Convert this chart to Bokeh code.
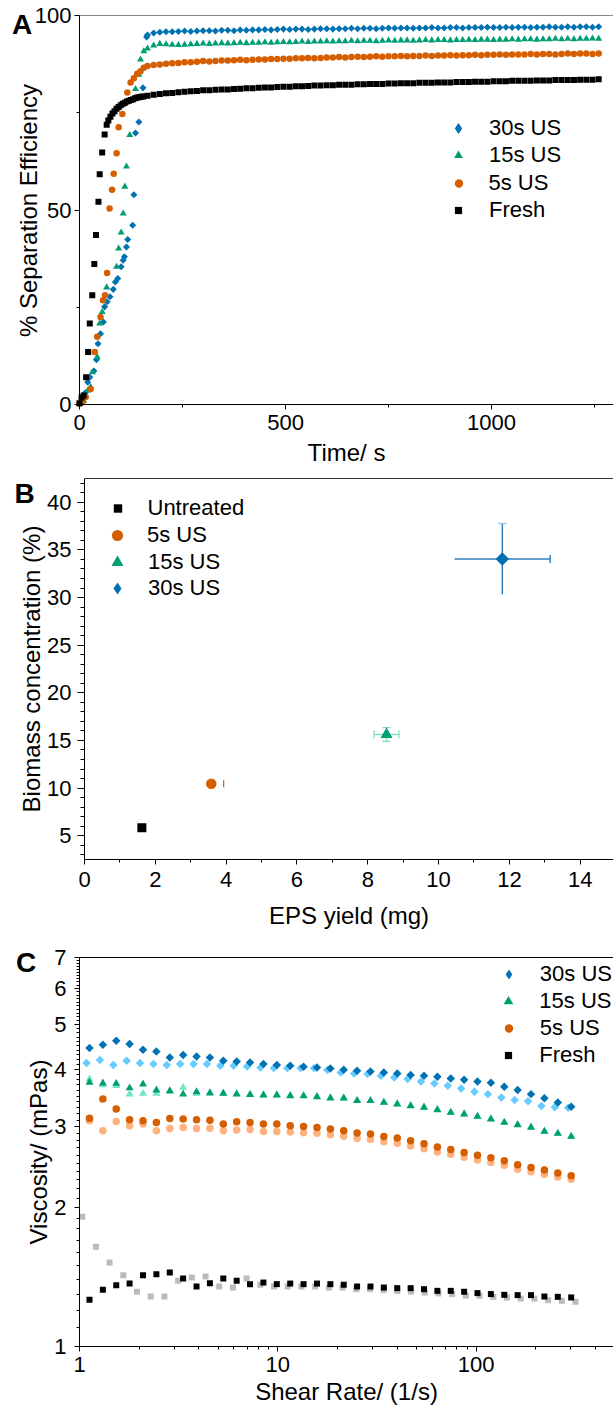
from math import pi, log10
from bokeh.plotting import figure
from bokeh.layouts import column
from bokeh.models import (Range1d, LinearAxis, FixedTicker, Legend, LegendItem, Label,
                          Whisker, TeeHead, ColumnDataSource, PrintfTickFormatter)
from bokeh.embed import file_html
from bokeh.resources import INLINE

FONT = "Liberation Sans"
BLUE, GREEN, ORANGE, BLACK = "#0072B2", "#009E73", "#D55E00", "#000000"
LBLUE, LGREEN, LORANGE, GRAY = "#66CCFF", "#70E6C4", "#FFB27F", "#BBBBBB"

# ---------------- Panel A data: separation efficiency vs time ----------------
t_plateau = [165, 180, 195, 210, 225, 240, 255, 270, 285, 300,
             315, 330, 345, 360, 375, 390, 405, 420, 435, 450,
             465, 480, 495, 510, 525, 540, 555, 570, 585, 600,
             615, 630, 645, 660, 675, 690, 705, 720, 735, 750,
             765, 780, 795, 810, 825, 840, 855, 870, 885, 900,
             915, 930, 945, 960, 975, 990, 1005, 1020, 1035, 1050,
             1065, 1080, 1095, 1110, 1125, 1140, 1155, 1170, 1185, 1200,
             1215, 1230, 1245, 1260]

us30_t_rise = [0, 7, 14, 20, 25, 35, 41, 45, 51, 58, 61, 67, 74, 82, 87, 93, 101, 106, 109,
               114, 117, 129, 132, 136, 144, 154, 163]
us30_v_rise = [0.2, 0.6, 3.0, 5.7, 7.0, 8.6, 11.5, 15.6, 18.2, 21.2, 25.1, 26.4, 27.7, 29.6, 31.5,
               32.4, 35.4, 37.1, 38.0, 40.5, 42.4, 46.1, 53.9, 69.8, 72.6, 81.4, 94.5]
us30_v_plat = [95.0, 95.5, 95.7, 95.8, 95.8, 95.9, 96.0, 95.9, 96.0, 96.1,
               96.1, 96.0, 96.2, 96.2, 96.1, 96.3, 96.2, 96.3, 96.3, 96.4,
               96.3, 96.4, 96.5, 96.4, 96.5, 96.5, 96.4, 96.5, 96.6, 96.6,
               96.5, 96.6, 96.6, 96.7, 96.6, 96.7, 96.7, 96.6, 96.7, 96.8,
               96.7, 96.8, 96.8, 96.7, 96.8, 96.8, 96.9, 96.8, 96.8, 96.9,
               96.9, 96.8, 96.9, 96.9, 96.9, 97.0, 96.9, 96.9, 97.0, 96.9,
               97.0, 97.0, 96.9, 97.0, 97.0, 97.1, 97.0, 97.0, 97.1, 97.0,
               97.1, 97.1, 97.0, 97.1]

us15_t_rise = [0, 10, 20, 27, 31, 43, 49, 55, 59, 66, 90, 95, 101, 106, 110, 114, 122, 136,
               144, 148, 156]
us15_v_rise = [0.2, 1.0, 3.6, 4.5, 8.3, 12.2, 20.8, 23.8, 26.8, 30.1, 35.4, 40.1, 44.2, 49.1,
               56.0, 61.2, 69.3, 81.1, 84.8, 88.7, 90.8]
us15_v_plat = [91.5, 92.3, 92.7, 92.6, 92.5, 92.4, 92.5, 92.6, 92.7, 92.8,
               92.7, 92.8, 92.9, 92.8, 92.9, 93.0, 92.9, 93.0, 93.0, 93.1,
               93.0, 93.1, 93.2, 93.1, 93.2, 93.3, 93.2, 93.3, 93.3, 93.4,
               93.3, 93.4, 93.4, 93.5, 93.4, 93.5, 93.5, 93.4, 93.5, 93.6,
               93.5, 93.6, 93.6, 93.5, 93.6, 93.7, 93.6, 93.7, 93.7, 93.6,
               93.7, 93.7, 93.8, 93.7, 93.8, 93.8, 93.7, 93.8, 93.8, 93.9,
               93.8, 93.9, 93.9, 93.8, 93.9, 93.9, 94.0, 93.9, 94.0, 93.9,
               94.0, 94.0, 94.1, 94.0]

us5_t_rise = [0, 6, 15, 27, 37, 43, 51, 57, 62, 67, 73, 79, 83, 90, 95, 104, 110, 116, 124,
              132, 140, 148, 156]
us5_v_rise = [0.2, 0.6, 1.9, 4.0, 13.5, 17.4, 22.5, 26.8, 28.1, 33.8, 50.4, 55.2, 59.3, 64.6,
              71.3, 74.7, 77.5, 80.2, 82.8, 83.9, 85.0, 85.7, 86.6]
us5_v_plat = [87.0, 87.3, 87.4, 87.6, 87.7, 87.8, 88.0, 88.0, 88.1, 88.3,
              88.2, 88.3, 88.4, 88.4, 88.5, 88.6, 88.5, 88.6, 88.7, 88.7,
              88.8, 88.8, 88.9, 88.9, 89.0, 89.0, 89.1, 89.0, 89.1, 89.2,
              89.2, 89.3, 89.2, 89.3, 89.4, 89.3, 89.4, 89.5, 89.4, 89.5,
              89.5, 89.6, 89.5, 89.6, 89.6, 89.7, 89.6, 89.7, 89.7, 89.8,
              89.7, 89.8, 89.8, 89.9, 89.8, 89.9, 89.9, 90.0, 89.9, 90.0,
              90.0, 90.0, 90.1, 90.0, 90.1, 90.1, 90.0, 90.1, 90.2, 90.1,
              90.2, 90.2, 90.1, 90.2]

fresh_t_rise = [0, 5, 10, 16, 21, 25, 31, 36, 40, 46, 49, 55, 61, 66, 70, 75, 80, 85, 90, 95,
                100, 105, 110, 115, 120, 125, 130, 135, 140, 145, 150, 155]
fresh_v_rise = [0.3, 1.8, 2.3, 7.0, 13.5, 20.8, 28.1, 36.1, 43.6, 52.1, 59.2, 64.8, 69.4, 71.9,
                73.0, 74.0, 74.8, 75.4, 76.0, 76.5, 76.9, 77.3, 77.6, 77.9, 78.1, 78.3, 78.5,
                78.7, 78.9, 79.0, 79.1, 79.2]
fresh_v_plat = [79.4, 79.6, 79.8, 80.0, 80.1, 80.3, 80.4, 80.5, 80.6, 80.8,
                80.8, 80.9, 81.0, 81.0, 81.1, 81.2, 81.3, 81.3, 81.4, 81.5,
                81.5, 81.6, 81.7, 81.7, 81.8, 81.8, 81.9, 82.0, 82.0, 82.1,
                82.1, 82.2, 82.2, 82.2, 82.3, 82.3, 82.4, 82.4, 82.4, 82.5,
                82.5, 82.6, 82.6, 82.6, 82.7, 82.7, 82.7, 82.8, 82.8, 82.8,
                82.9, 82.9, 82.9, 83.0, 83.0, 83.0, 83.1, 83.1, 83.1, 83.2,
                83.2, 83.2, 83.2, 83.3, 83.3, 83.3, 83.4, 83.4, 83.4, 83.4,
                83.5, 83.5, 83.5, 83.6]

A_xlim, A_ylim = (0, 1296), (0, 100)
A_xticks, A_xminor = [0, 500, 1000], [250, 750, 1250]
A_yticks, A_yminor = [0, 50, 100], [25, 75]

# ---------------- Panel B data: biomass vs EPS yield ----------------
B_groups = ["Untreated", "5s US", "15s US", "30s US"]
B_eps = [1.62, 3.58, 8.53, 11.80]
B_eps_err = [0.00, 0.35, 0.35, 1.35]
B_biomass = [5.84, 10.46, 15.63, 34.05]
B_biomass_err = [0.00, 0.00, 0.72, 3.72]
B_xlim, B_ylim = (0, 14.94), (2.5, 42.5)
B_xticks, B_xminor = [0, 2, 4, 6, 8, 10, 12, 14], [1, 3, 5, 7, 9, 11, 13]
B_yticks = [5, 10, 15, 20, 25, 30, 35, 40]
B_yminor = [3, 4, 6, 7, 8, 9, 11, 12, 13, 14, 16, 17, 18, 19, 21, 22, 23, 24, 26, 27, 28, 29,
            31, 32, 33, 34, 36, 37, 38, 39, 41, 42]

# ---------------- Panel C data: viscosity vs shear rate ----------------
shear = [1.123, 1.312, 1.532, 1.789, 2.091, 2.442, 2.853, 3.332, 3.892, 4.546, 5.311, 6.203,
         7.244, 8.463, 9.886, 11.55, 13.49, 15.76, 18.41, 21.50, 25.11, 29.33, 34.26, 40.02,
         46.75, 54.61, 63.77, 74.50, 87.02, 101.6, 118.7, 138.7, 162.0, 189.2, 221.0, 258.2,
         301.6]
shear_rep_30s = [1.085, 1.267, 1.480, 1.728, 2.020, 2.359, 2.756, 3.219, 3.760, 4.391, 5.130,
                 5.992, 6.998, 8.175, 9.550, 11.16, 13.03, 15.22, 17.78, 20.77, 24.26, 28.33,
                 33.10, 38.66, 45.16, 52.75, 61.60, 71.97, 84.06, 98.15, 114.7, 134.0, 156.5,
                 182.8, 213.5, 249.4, 291.3]
shear_rep_fresh = [1.032, 1.210, 1.418, 1.663, 1.950, 2.286, 2.680, 3.142, 3.685, 4.320, 5.065,
                   5.938, 6.962, 8.163, 9.572, 11.22, 13.16, 15.43, 18.09, 21.21, 24.87, 29.15,
                   34.19, 40.08, 46.99, 55.10, 64.60, 75.74, 88.80, 104.1, 122.1, 143.1, 167.8,
                   196.8, 230.7, 270.5, 317.1]
visc_30s = [4.449, 4.523, 4.615, 4.539, 4.411, 4.374, 4.244, 4.296, 4.266, 4.244, 4.176, 4.161,
            4.140, 4.107, 4.087, 4.072, 4.052, 4.038, 4.018, 3.992, 3.972, 3.958, 3.938, 3.919,
            3.887, 3.874, 3.854, 3.821, 3.797, 3.764, 3.740, 3.666, 3.606, 3.534, 3.463, 3.389,
            3.317]
visc_30s_rep = [4.128, 4.190, 4.087, 4.176, 4.128, 4.107, 4.087, 4.107, 4.107, 4.107, 4.072,
                4.072, 4.058, 4.038, 4.025, 4.025, 4.025, 4.025, 3.986, 3.938, 3.919, 3.907,
                3.874, 3.840, 3.810, 3.764, 3.727, 3.685, 3.636, 3.575, 3.534, 3.475, 3.430,
                3.410, 3.330, 3.310, 3.300]
visc_15s = [3.746, 3.735, 3.727, 3.643, 3.716, 3.606, 3.593, 3.534, 3.575, 3.552, 3.548, 3.534,
            3.522, 3.516, 3.516, 3.504, 3.504, 3.486, 3.463, 3.463, 3.418, 3.418, 3.389, 3.362,
            3.333, 3.306, 3.267, 3.223, 3.197, 3.159, 3.119, 3.066, 3.031, 2.991, 2.932, 2.902,
            2.859]
visc_15s_rep = [3.810, 3.700, 3.685, 3.534, 3.545, 3.545, 3.580, 3.653, 3.545, 3.560, 3.550,
                3.545, 3.530, 3.520, 3.520, 3.510, 3.505, 3.490, 3.470, 3.465, 3.425, 3.420,
                3.395, 3.365, 3.335, 3.310, 3.270, 3.225, 3.200, 3.160, 3.120, 3.070, 3.035,
                2.995, 2.935, 2.905, 2.860]
visc_5s = [3.134, 3.447, 3.280, 3.108, 3.092, 3.066, 3.128, 3.119, 3.108, 3.103, 3.042, 3.077,
           3.066, 3.042, 3.042, 3.016, 3.006, 2.991, 2.967, 2.942, 2.908, 2.894, 2.859, 2.836,
           2.798, 2.757, 2.713, 2.680, 2.640, 2.602, 2.570, 2.532, 2.481, 2.448, 2.417, 2.381,
           2.349]
visc_5s_rep = [3.092, 2.942, 3.082, 3.016, 3.042, 2.942, 2.976, 2.991, 2.976, 2.981, 2.942,
               2.952, 2.962, 2.932, 2.932, 2.923, 2.913, 2.906, 2.884, 2.861, 2.829, 2.817,
               2.784, 2.763, 2.727, 2.688, 2.646, 2.615, 2.577, 2.541, 2.511, 2.475, 2.426,
               2.396, 2.367, 2.336, 2.309]
visc_fresh = [1.263, 1.328, 1.359, 1.370, 1.429, 1.436, 1.448, 1.405, 1.350, 1.373, 1.405, 1.389,
              1.366, 1.377, 1.366, 1.370, 1.366, 1.370, 1.366, 1.362, 1.350, 1.350, 1.343, 1.339,
              1.339, 1.332, 1.321, 1.321, 1.315, 1.306, 1.300, 1.295, 1.293, 1.293, 1.284, 1.282,
              1.278]
visc_fresh_rep = [1.913, 1.647, 1.522, 1.429, 1.315, 1.284, 1.284, 1.389, 1.412, 1.419, 1.350,
                  1.343, 1.405, 1.362, 1.350, 1.350, 1.350, 1.350, 1.343, 1.343, 1.332, 1.332,
                  1.326, 1.321, 1.317, 1.310, 1.304, 1.300, 1.289, 1.289, 1.282, 1.278, 1.271,
                  1.271, 1.261, 1.257, 1.251]
C_xlim, C_ylim = (1, 493), (1, 7)
C_xticks = [1, 10, 100]
C_xminor = [2, 3, 4, 5, 6, 7, 8, 9, 20, 30, 40, 50, 60, 70, 80, 90, 200, 300, 400]
C_yticks = [1, 2, 3, 4, 5, 6, 7]
C_yminor = [1.1, 1.2, 1.3, 1.4, 1.5, 1.6, 1.7, 1.8, 1.9, 2.1, 2.2, 2.3, 2.4, 2.5, 2.6, 2.7, 2.8,
            2.9, 3.1, 3.2, 3.3, 3.4, 3.5, 3.6, 3.7, 3.8, 3.9, 4.1, 4.2, 4.3, 4.4, 4.5, 4.6, 4.7,
            4.8, 4.9, 5.1, 5.2, 5.3, 5.4, 5.5, 5.6, 5.7, 5.8, 5.9, 6.1, 6.2, 6.3, 6.4, 6.5, 6.6,
            6.7, 6.8, 6.9]

W = 613


# ---------------- helpers ----------------
def canvas_range(lim, p_lo, p_hi, size, log=False, vertical=False):
    """Range so that lim[0] sits at pixel p_lo and lim[1] at pixel p_hi of a plot
    frame that fills the whole canvas (size pixels)."""
    f = log10 if log else (lambda v: v)
    g = (lambda v: 10 ** v) if log else (lambda v: v)
    a, b = f(lim[0]), f(lim[1])
    per_px = (b - a) / abs(p_hi - p_lo)
    if vertical:  # p_lo is the lower edge (larger pixel y), pixel y grows downward
        start = a - (size - p_lo) * per_px
        end = a + p_lo * per_px
    else:
        start = a - p_lo * per_px
        end = a + (size - p_lo) * per_px
    return Range1d(g(start), g(end))


def style_axis(ax, fixed, bounds, tick_out, minor_out, lab_stand):
    ax.fixed_location = fixed
    ax.bounds = bounds
    ax.axis_label = None
    ax.major_label_text_font = FONT
    ax.major_label_text_font_size = "22px"
    ax.major_label_text_color = "black"
    ax.major_label_standoff = lab_stand
    ax.major_tick_in = 0
    ax.major_tick_out = tick_out
    ax.minor_tick_in = 0
    ax.minor_tick_out = minor_out
    ax.axis_line_color = "black"
    ax.major_tick_line_color = "black"
    ax.minor_tick_line_color = "black"


def top_border(p, color, y_end, bounds):
    ax = LinearAxis(fixed_location=y_end, bounds=bounds, ticker=FixedTicker(ticks=[]),
                    axis_line_color=color, major_tick_out=0, major_tick_in=0,
                    minor_tick_out=0, minor_tick_in=0, major_label_text_font_size="0px",
                    major_label_standoff=0, axis_label_standoff=0)
    p.add_layout(ax, "above")


def text(p, H, s, sx, sy, size="24px", bold=False, angle=0.0, align="center"):
    # sx, sy: canvas pixels (from the figure's top-left) of the text's middle line
    p.add_layout(Label(x=sx, y=H - sy, x_units="screen", y_units="screen", text=s, angle=angle,
                       text_font=FONT, text_font_size=size,
                       text_font_style="bold" if bold else "normal", text_color="black",
                       text_align=align, text_baseline="middle"))


def legend_row(p, H, xs, ys, label, marker, msize, color, cx, cy, lx):
    # hidden copy of the series, used only as the legend's symbol
    r = p.scatter(xs, ys, marker=marker, fill_color=color, line_color=None, visible=False)
    gw = int(round(msize / 0.4))
    gh = max(30, gw)
    leg = Legend(items=[LegendItem(label=label, renderers=[r])],
                 location=(cx - gw / 2, H - cy - gh / 2),
                 glyph_width=gw, glyph_height=gh, label_height=gh,
                 label_standoff=int(round(lx - (cx + gw / 2))), padding=0, margin=0, spacing=0,
                 border_line_color=None, background_fill_alpha=0,
                 inactive_fill_alpha=0, click_policy="none",
                 label_text_font=FONT, label_text_font_size="22px", label_text_color="black")
    p.add_layout(leg)


def base_fig(H, xr, yr, **kw):
    p = figure(width=W, height=H, x_range=xr, y_range=yr, output_backend="svg",
               toolbar_location=None, min_border=0, min_border_left=0, min_border_right=0,
               min_border_top=0, min_border_bottom=0, **kw)
    p.xgrid.visible = False
    p.ygrid.visible = False
    p.outline_line_color = None
    p.background_fill_color = "white"
    p.border_fill_color = "white"
    return p


# ---------------- Panel A ----------------
HA = 470
pA = base_fig(HA, canvas_range(A_xlim, 79, W, W), canvas_range(A_ylim, 404, 15, HA, vertical=True))
style_axis(pA.below[0], A_ylim[0], A_xlim, 5, 3, 5)
style_axis(pA.left[0], A_xlim[0], A_ylim, 5, 3, 3)
pA.below[0].ticker = FixedTicker(ticks=A_xticks, minor_ticks=A_xminor)
pA.left[0].ticker = FixedTicker(ticks=A_yticks, minor_ticks=A_yminor)
top_border(pA, "#8a8a8a", A_ylim[1], A_xlim)

A_series = [
    ("30s US", us30_t_rise + t_plateau, us30_v_rise + us30_v_plat, BLUE),
    ("15s US", us15_t_rise + t_plateau, us15_v_rise + us15_v_plat, GREEN),
    ("5s US", us5_t_rise + t_plateau, us5_v_rise + us5_v_plat, ORANGE),
    ("Fresh", fresh_t_rise + t_plateau, fresh_v_rise + fresh_v_plat, BLACK),
]
A_mark = {"30s US": ("square", 5, pi / 4), "15s US": ("triangle", 7, 0.0),
          "5s US": ("circle", 6.5, 0.0), "Fresh": ("square", 6, 0.0)}
A_leg = {"30s US": ("diamond", 11, 128), "15s US": ("triangle", 9, 155),
         "5s US": ("circle", 8.5, 183), "Fresh": ("square", 7, 210)}
for name, xs, ys, col in A_series:
    mk, ms, ang = A_mark[name]
    pA.scatter(xs, ys, marker=mk, size=ms, angle=ang, fill_color=col, line_color=None)
for name, xs, ys, col in A_series:
    mk, ms, cy = A_leg[name]
    legend_row(pA, HA, xs, ys, name, mk, ms, col, 458, cy, 489)
text(pA, HA, "Time/ s", 346, 452)
text(pA, HA, "% Separation Efficiency", 27.5, 210, angle=pi / 2)
text(pA, HA, "A", 11.5, 24, size="28px", bold=True, align="left")

# ---------------- Panel B ----------------
HB = 460
pB = base_fig(HB, canvas_range(B_xlim, 84, W, W), canvas_range(B_ylim, 389, 8, HB, vertical=True))
style_axis(pB.below[0], B_ylim[0], B_xlim, 5, 3, 7)
style_axis(pB.left[0], B_xlim[0], B_ylim, 7, 4, 6)
pB.below[0].ticker = FixedTicker(ticks=B_xticks, minor_ticks=B_xminor)
pB.left[0].ticker = FixedTicker(ticks=B_yticks, minor_ticks=B_yminor)
top_border(pB, "#333333", B_ylim[1], B_xlim)

i = 1  # 5s US: only the plus cap is visible
src = ColumnDataSource(dict(y=[B_biomass[i]], lo=[B_eps[i]], hi=[B_eps[i] + B_eps_err[i]]))
pB.add_layout(Whisker(source=src, base="y", lower="lo", upper="hi", dimension="width",
                      line_alpha=0, lower_head=None,
                      upper_head=TeeHead(size=7, line_color=ORANGE, line_width=1.2)))
i = 2  # 15s US
src = ColumnDataSource(dict(x=[B_eps[i]], y=[B_biomass[i]],
                            xl=[B_eps[i] - B_eps_err[i]], xu=[B_eps[i] + B_eps_err[i]],
                            yl=[B_biomass[i] - B_biomass_err[i]], yu=[B_biomass[i] + B_biomass_err[i]]))
EG = "#7fd8b8"
pB.add_layout(Whisker(source=src, base="y", lower="xl", upper="xu", dimension="width",
                      line_color=EG, line_width=1.2,
                      upper_head=TeeHead(size=8, line_color=EG, line_width=1.2),
                      lower_head=TeeHead(size=8, line_color=EG, line_width=1.2)))
pB.add_layout(Whisker(source=src, base="x", lower="yl", upper="yu", dimension="height",
                      line_color=EG, line_width=1.2,
                      upper_head=TeeHead(size=8, line_color=EG, line_width=1.2),
                      lower_head=TeeHead(size=8, line_color=EG, line_width=1.2)))
i = 3  # 30s US
src = ColumnDataSource(dict(x=[B_eps[i]], y=[B_biomass[i]],
                            xl=[B_eps[i] - B_eps_err[i]], xu=[B_eps[i] + B_eps_err[i]],
                            yl=[B_biomass[i] - B_biomass_err[i]], yu=[B_biomass[i] + B_biomass_err[i]]))
EB = "#2f80c0"
pB.add_layout(Whisker(source=src, base="y", lower="xl", upper="xu", dimension="width",
                      line_color=EB, line_width=1.5, lower_head=None,
                      upper_head=TeeHead(size=8, line_color=EB, line_width=1.5)))
pB.add_layout(Whisker(source=src, base="x", lower="yl", upper="yu", dimension="height",
                      line_color=EB, line_width=1.5, lower_head=None,
                      upper_head=TeeHead(size=8, line_color="#9cc3e5", line_width=1.5)))

B_style = {"Untreated": ("square", 9, BLACK, 0.0), "5s US": ("circle", 10.5, ORANGE, 0.0),
           "15s US": ("triangle", 12, GREEN, 0.0), "30s US": ("square", 9.5, BLUE, pi / 4)}
for i, g in enumerate(B_groups):
    mk, ms, col, ang = B_style[g]
    pB.scatter([B_eps[i]], [B_biomass[i]], marker=mk, size=ms, angle=ang,
               fill_color=col, line_color=None)
B_leg = {"Untreated": ("square", 8.5, 38.3), "5s US": ("circle", 11, 65),
         "15s US": ("triangle", 12, 91.7), "30s US": ("diamond", 12, 118.3)}
for i, g in enumerate(B_groups):
    mk, ms, cy = B_leg[g]
    legend_row(pB, HB, [B_eps[i]], [B_biomass[i]], g, mk, ms, B_style[g][2], 117, cy, 147.5)
text(pB, HB, "EPS yield (mg)", 348.5, 445)
text(pB, HB, "Biomass concentration (%)", 31, 198.5, angle=pi / 2)
text(pB, HB, "B", 14, 23, size="28px", bold=True, align="left")

# ---------------- Panel C ----------------
HC = 479
pC = base_fig(HC, canvas_range(C_xlim, 79, W, W, log=True),
              canvas_range(C_ylim, 416, 27, HC, log=True, vertical=True),
              x_axis_type="log", y_axis_type="log")
style_axis(pC.below[0], C_ylim[0], C_xlim, 5, 3, 5)
style_axis(pC.left[0], C_xlim[0], C_ylim, 5, 3, 8)
pC.below[0].ticker = FixedTicker(ticks=C_xticks, minor_ticks=C_xminor)
pC.left[0].ticker = FixedTicker(ticks=C_yticks, minor_ticks=C_yminor)
pC.below[0].formatter = PrintfTickFormatter(format="%d")
pC.left[0].formatter = PrintfTickFormatter(format="%d")
top_border(pC, "black", C_ylim[1], C_xlim)

# replicate runs (lighter), then main runs on top
pC.scatter(shear_rep_fresh, visc_fresh_rep, marker="square", size=6, fill_color=GRAY, line_color=None)
pC.scatter(shear, visc_5s_rep, marker="circle", size=7.5, fill_color=LORANGE, line_color=None)
pC.scatter(shear, visc_15s_rep, marker="triangle", size=8, fill_color=LGREEN, line_color=None)
pC.scatter(shear_rep_30s, visc_30s_rep, marker="square", size=6, angle=pi / 4,
           fill_color=LBLUE, line_color=None)
pC.scatter(shear, visc_fresh, marker="square", size=6, fill_color=BLACK, line_color=None)
pC.scatter(shear, visc_5s, marker="circle", size=7.5, fill_color=ORANGE, line_color=None)
pC.scatter(shear, visc_15s, marker="triangle", size=8, fill_color=GREEN, line_color=None)
pC.scatter(shear, visc_30s, marker="square", size=6, angle=pi / 4, fill_color=BLUE, line_color=None)

C_leg = [("30s US", visc_30s, "diamond", 10, BLUE, 44), ("15s US", visc_15s, "triangle", 9.5, GREEN, 70.7),
         ("5s US", visc_5s, "circle", 8.5, ORANGE, 98.3), ("Fresh", visc_fresh, "square", 7, BLACK, 125)]
for lab, ys, mk, ms, col, cy in C_leg:
    legend_row(pC, HC, shear, ys, lab, mk, ms, col, 508.3, cy, 539.5)
text(pC, HC, "Shear Rate/ (1/s)", 346, 460.5)
text(pC, HC, "Viscosity/ (mPas)", 37.5, 221.5, angle=pi / 2)
text(pC, HC, "C", 15.4, 32, size="28px", bold=True, align="left")

layout = column(pA, pB, pC, spacing=0)
open("out.html", "w").write(file_html(layout, INLINE))
